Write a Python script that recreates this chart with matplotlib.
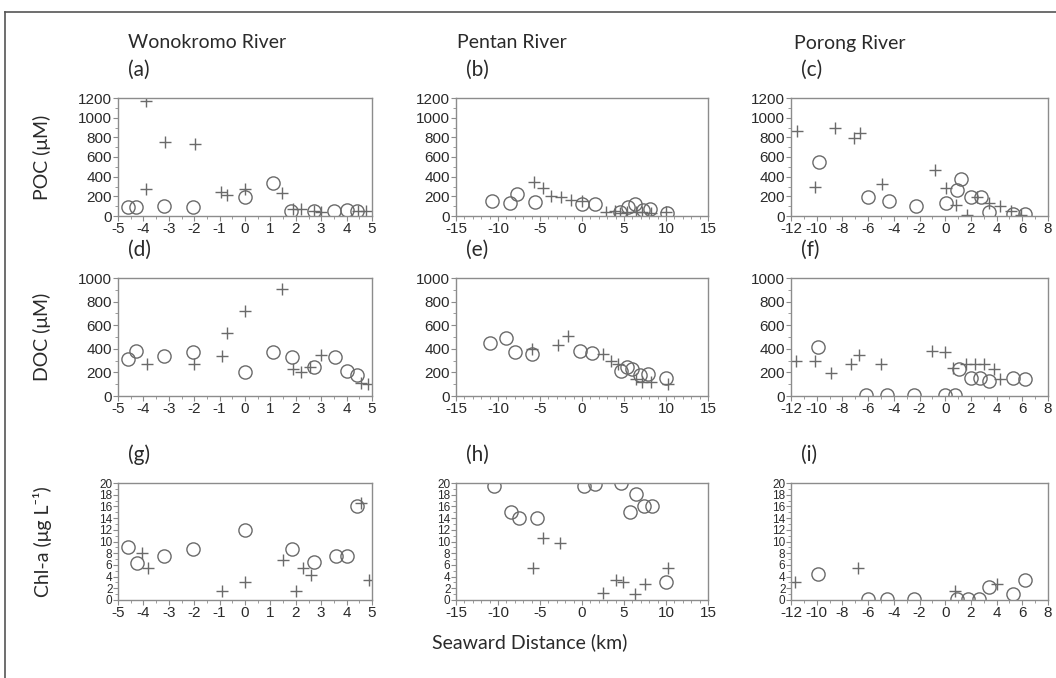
import matplotlib
matplotlib.use("Agg")
import matplotlib.pyplot as plt
from matplotlib.ticker import MultipleLocator
from matplotlib.lines import Line2D

plt.rcParams["axes.unicode_minus"] = False

# ---------------- data ----------------
rivers = ["Wonokromo River", "Pentan River", "Porong River"]
panel_labels = ["(a)", "(b)", "(c)", "(d)", "(e)", "(f)", "(g)", "(h)", "(i)"]
row_labels = ["POC (\u03bcM)", "DOC (\u03bcM)", "Chl-a (\u03bcg L\u207b\u00b9)"]

# (a) POC Wonokromo
a_circ_x = [-4.6, -4.3, -3.2, -2.05, 0.0, 1.1, 1.8, 2.7, 3.5, 4.0, 4.4]
a_circ_y = [95, 88, 100, 88, 190, 340, 55, 55, 55, 60, 55]
a_plus_x = [-3.9, -3.9, -3.15, -1.95, -0.95, -0.7, 0.0, 1.45, 1.9, 2.2, 2.7, 3.0, 4.45, 4.75]
a_plus_y = [1170, 270, 755, 735, 240, 210, 270, 230, 75, 75, 55, 45, 55, 50]
# (b) POC Pentan
b_circ_x = [-10.7, -8.6, -7.7, -5.65, 0.0, 1.5, 4.5, 5.45, 6.25, 7.25, 8.1, 10.1]
b_circ_y = [155, 135, 220, 140, 120, 120, 45, 90, 120, 60, 70, 35]
b_plus_x = [-5.7, -4.6, -3.75, -2.5, -1.35, 0.0, 2.8, 3.9, 4.5, 5.3, 6.4, 7.2, 8.2, 10.0]
b_plus_y = [350, 285, 205, 190, 160, 150, 45, 55, 35, 45, 40, 45, 35, 45]
# (c) POC Porong
c_circ_x = [-9.85, -6.0, -4.4, -2.3, 0.1, 0.9, 1.25, 2.0, 2.75, 3.4, 5.3, 6.2]
c_circ_y = [545, 195, 155, 105, 130, 265, 380, 195, 190, 45, 25, 25]
c_plus_x = [-11.5, -10.1, -8.6, -7.1, -6.6, -4.95, -0.8, 0.1, 0.85, 1.7, 2.5, 3.4, 4.25, 5.1, 5.9]
c_plus_y = [865, 290, 900, 790, 840, 325, 470, 280, 115, 10, 190, 130, 105, 55, 15]
# (d) DOC Wonokromo
d_circ_x = [-4.6, -4.3, -3.2, -2.05, 0.0, 1.1, 1.85, 2.7, 3.55, 4.0, 4.4]
d_circ_y = [315, 380, 335, 370, 200, 375, 330, 250, 330, 210, 180]
d_plus_x = [-3.85, -2.0, -0.9, -0.7, 0.0, 1.45, 1.9, 2.2, 2.55, 3.0, 4.55, 4.85]
d_plus_y = [270, 270, 340, 530, 720, 905, 230, 200, 250, 350, 110, 100]
# (e) DOC Pentan
e_circ_x = [-10.9, -9.0, -8.0, -5.9, -0.2, 1.2, 4.6, 5.3, 6.0, 6.9, 7.9, 10.0]
e_circ_y = [445, 495, 375, 360, 385, 365, 210, 250, 230, 180, 185, 155]
e_plus_x = [-5.9, -2.85, -1.65, 2.5, 3.5, 4.3, 6.4, 7.2, 8.2, 10.2]
e_plus_y = [400, 430, 505, 360, 300, 275, 145, 120, 120, 100]
# (f) DOC Porong
f_circ_x = [-9.9, -6.2, -4.5, -2.4, 0.0, 0.8, 1.1, 2.0, 2.7, 3.4, 5.3, 6.2]
f_circ_y = [415, 10, 10, 10, 10, 10, 225, 150, 150, 130, 150, 140]
f_plus_x = [-11.6, -10.1, -8.9, -7.3, -6.7, -5.0, -1.0, 0.0, 0.6, 1.6, 2.3, 3.0, 3.8, 4.3]
f_plus_y = [300, 300, 195, 275, 345, 275, 380, 370, 240, 275, 275, 275, 225, 140]
# (g) Chl-a Wonokromo
g_circ_x = [-4.6, -4.25, -3.2, -2.05, 0.0, 1.85, 2.7, 3.6, 4.0, 4.4]
g_circ_y = [9.0, 6.4, 7.5, 8.7, 12.0, 8.7, 6.5, 7.5, 7.5, 16.0]
g_plus_x = [-4.05, -3.8, -0.9, 0.0, 1.5, 2.0, 2.3, 2.6, 4.55, 4.9]
g_plus_y = [8.0, 5.5, 1.5, 3.0, 6.8, 1.5, 5.5, 4.2, 16.5, 3.5]
# (h) Chl-a Pentan
h_circ_x = [-10.5, -8.4, -7.5, -5.4, 0.2, 1.6, 4.7, 6.4, 5.7, 7.4, 8.3, 10.0]
h_circ_y = [19.5, 15.0, 14.0, 14.0, 19.5, 19.8, 20.0, 18.2, 15.1, 16.0, 16.0, 3.0]
h_plus_x = [-5.8, -4.6, -2.6, 2.5, 4.0, 4.9, 6.3, 7.5, 10.2]
h_plus_y = [5.5, 10.6, 9.7, 1.2, 3.5, 3.0, 1.0, 2.8, 5.5]
# (i) Chl-a Porong
i_circ_x = [-9.9, -6.0, -4.5, -2.4, 0.9, 1.8, 2.6, 3.4, 5.3, 6.2]
i_circ_y = [4.4, 0.2, 0.2, 0.2, 0.2, 0.2, 0.2, 2.3, 1.0, 3.5]
i_plus_x = [-11.7, -6.8, 0.8, 4.0]
i_plus_y = [3.0, 5.5, 1.5, 2.8]

circ_x = [a_circ_x, b_circ_x, c_circ_x, d_circ_x, e_circ_x, f_circ_x, g_circ_x, h_circ_x, i_circ_x]
circ_y = [a_circ_y, b_circ_y, c_circ_y, d_circ_y, e_circ_y, f_circ_y, g_circ_y, h_circ_y, i_circ_y]
plus_x = [a_plus_x, b_plus_x, c_plus_x, d_plus_x, e_plus_x, f_plus_x, g_plus_x, h_plus_x, i_plus_x]
plus_y = [a_plus_y, b_plus_y, c_plus_y, d_plus_y, e_plus_y, f_plus_y, g_plus_y, h_plus_y, i_plus_y]

x_limits = [(-5, 5), (-15, 15), (-12, 8)]
x_major = [1, 5, 2]
x_minor = [0.5, 1, 1]
y_limits = [(0, 1200), (0, 1000), (0, 20)]
y_major = [200, 200, 2]
y_minor = [100, 100, 1]

# ---------------- layout ----------------
W, H = 1056, 678
fig = plt.figure(figsize=(W / 100, H / 100), dpi=100)
fig.patch.set_facecolor("white")

col_px = [(118, 372), (456, 708), (791, 1048)]
row_px = [(98, 216), (278, 396), (483, 600)]

GRAY = "#6a6a6a"
SPINE = "#8c8c8c"
TXT = "#2a2a2a"
calib = ["Lato", "DejaVu Sans"]
arial = ["Liberation Sans", "DejaVu Sans"]

# outer frame lines (top and left)
fig.add_artist(Line2D([5 / W, 1.0], [1 - 12 / H, 1 - 12 / H], transform=fig.transFigure,
                      color="#555555", lw=1.2))
fig.add_artist(Line2D([5 / W, 5 / W], [0.0, 1 - 12 / H], transform=fig.transFigure,
                      color="#555555", lw=1.2))

for r in range(3):
    for c in range(3):
        k = r * 3 + c
        x0, x1 = col_px[c]
        y0, y1 = row_px[r]
        ax = fig.add_axes([x0 / W, 1 - y1 / H, (x1 - x0) / W, (y1 - y0) / H])
        ax.plot(circ_x[k], circ_y[k], linestyle="none", marker="o", markersize=9.5,
                markerfacecolor="none", markeredgecolor=GRAY, markeredgewidth=1.0)
        ax.plot(plus_x[k], plus_y[k], linestyle="none", marker="+", markersize=9,
                color=GRAY, markeredgewidth=1.0)
        ax.set_xlim(*x_limits[c])
        ax.set_ylim(*y_limits[r])
        ax.xaxis.set_major_locator(MultipleLocator(x_major[c]))
        ax.xaxis.set_minor_locator(MultipleLocator(x_minor[c]))
        ax.yaxis.set_major_locator(MultipleLocator(y_major[r]))
        ax.yaxis.set_minor_locator(MultipleLocator(y_minor[r]))
        for s in ax.spines.values():
            s.set_color(SPINE)
            s.set_linewidth(1.0)
        ax.tick_params(which="major", direction="out", length=3.5, width=0.8, color=SPINE,
                       labelsize=11, labelcolor=TXT, pad=1)
        ax.tick_params(which="minor", direction="out", length=2, width=0.6, color=SPINE)
        if r == 2:
            ax.tick_params(axis="y", labelsize=8.5, pad=0.5)
        for lab in ax.get_xticklabels() + ax.get_yticklabels():
            lab.set_family(arial)
        # panel label
        fig.text((x0 + 10) / W, 1 - (y0 - 28) / H, panel_labels[k], family=calib,
                 fontsize=15, color=TXT, ha="left", va="center")

# column titles
title_x = [207, 512, 850]
for c in range(3):
    fig.text(title_x[c] / W, 1 - 43 / H, rivers[c], family=calib, fontsize=14,
             color=TXT, ha="center", va="center")

# row labels
for r in range(3):
    yc = (row_px[r][0] + row_px[r][1]) / 2
    fig.text(42 / W, 1 - yc / H, row_labels[r], family=calib, fontsize=14,
             color=TXT, ha="center", va="center", rotation=90)

# x-axis label
fig.text(530 / W, 1 - 642 / H, "Seaward Distance (km)", family=calib, fontsize=14,
         color=TXT, ha="center", va="center")

fig.savefig("out.png", dpi=100, facecolor="white")
